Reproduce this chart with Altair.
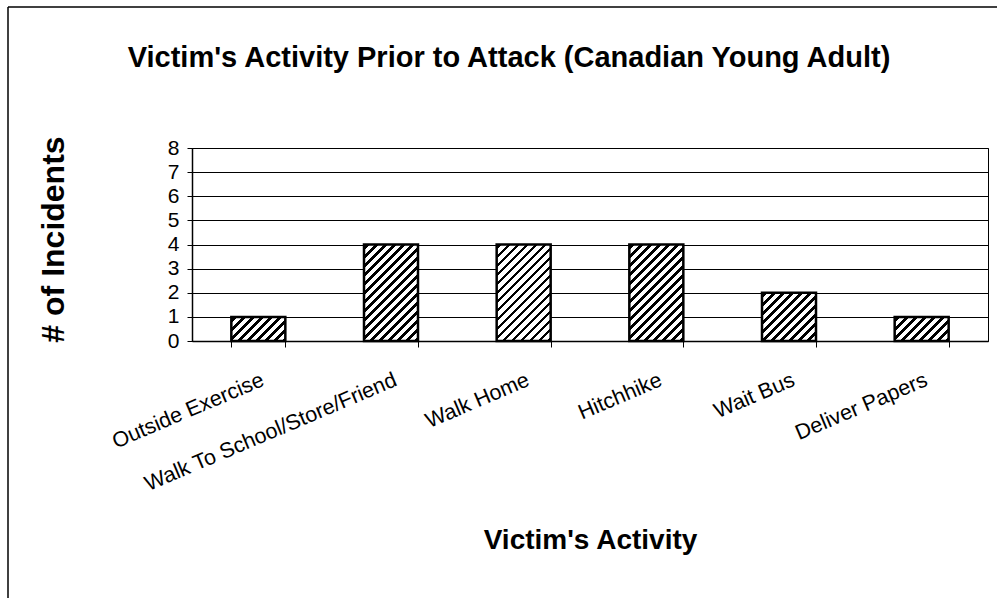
import altair as alt
import pandas as pd

# ---- data ----
categories = ["Outside Exercise", "Walk To School/Store/Friend", "Walk Home",
              "Hitchhike", "Wait Bus", "Deliver Papers"]
incidents = [1, 4, 4, 4, 2, 1]
y_ticks = [0, 1, 2, 3, 4, 5, 6, 7, 8]

title_text = "Victim's Activity Prior to Attack (Canadian Young Adult)"
x_title = "Victim's Activity"
y_title = "# of Incidents"

# ---- layout / style ----
W, H = 796, 193
YMAX = 8
PAD_INNER = 0.593
SANS = "Liberation Sans, Arial, sans-serif"

df = pd.DataFrame({"activity": categories, "count": incidents})

step = W / len(categories)
bar_w = step * (1 - PAD_INNER)


def hatch(value):
    """Diagonal '/' hatch as a sharp-stop linear gradient sized for the bar."""
    h = value * H / YMAX
    w = bar_w
    span = w + h
    k = span / (w * w + h * h)
    period, black = 9.0, 3.8
    stops = [alt.GradientStop(color="white", offset=0)]
    s = 2.0
    while s < span:
        a = s / span
        b = min((s + black) / span, 1.0)
        stops += [alt.GradientStop(color="white", offset=a),
                  alt.GradientStop(color="black", offset=a),
                  alt.GradientStop(color="black", offset=b),
                  alt.GradientStop(color="white", offset=b)]
        s += period
    stops.append(alt.GradientStop(color="white", offset=1))
    return alt.LinearGradient(gradient="linear", stops=stops,
                              x1=0, y1=0, x2=k * w, y2=k * h)


x_enc = alt.X(
    "activity:N",
    sort=categories,
    scale=alt.Scale(domain=categories, paddingInner=PAD_INNER, paddingOuter=PAD_INNER / 2),
    axis=alt.Axis(
        title=x_title, grid=False, tickBand="extent", ticks=True, tickSize=6,
        tickColor="black", domainColor="black", domainWidth=1.5,
        labelAngle=337, labelAlign="right", labelBaseline="top", labelPadding=22,
        labelFontSize=21.5, labelFont=SANS, labelColor="black", labelLimit=500,
        labelOverlap=False,
        titleFont=SANS, titleFontSize=28, titleFontWeight="bold", titleColor="black",
        titleY=207, titleBaseline="alphabetic",
    ),
)
y_enc = alt.Y(
    "count:Q",
    scale=alt.Scale(domain=[0, YMAX], nice=False),
    axis=alt.Axis(
        title=y_title, values=y_ticks, grid=True, gridColor="black", gridWidth=1,
        gridOpacity=1, tickSize=5, tickColor="black", domainColor="black", domainWidth=1.5,
        labelPadding=8, labelFontSize=21, labelFont=SANS, labelColor="black",
        titleFont=SANS, titleFontSize=32, titleFontWeight="bold", titleColor="black",
        titleAngle=270, titleX=-139, titleY=91, titleAlign="center",
        titleBaseline="middle",
    ),
)

base = alt.Chart(df)
layers = []
for v in sorted(set(incidents)):
    layers.append(
        base.transform_filter(alt.datum["count"] == v)
        .mark_bar(fill=hatch(v), stroke="black", strokeWidth=2.5)
        .encode(x=x_enc, y=y_enc)
    )

frame_df = pd.DataFrame({"f": [0]})
left_edge = alt.Chart(frame_df).mark_rule(color="black", strokeWidth=1.5).encode(
    x=alt.value(-184), y=alt.value(-141), y2=alt.value(H + 270))
top_edge = alt.Chart(frame_df).mark_rule(color="black", strokeWidth=1.5).encode(
    x=alt.value(-184), x2=alt.value(W + 20), y=alt.value(-141))

chart = alt.layer(*layers, left_edge, top_edge).properties(
    width=W, height=H,
    background="white",
    title=alt.TitleParams(
        text=title_text, font=SANS, fontSize=29, fontWeight="bold", color="black",
        anchor="middle", frame="group", dx=-81, offset=0, dy=90, baseline="alphabetic",
    ),
    autosize=alt.AutoSizeParams(type="none"),
    padding={"left": 192, "top": 148, "right": 9, "bottom": 257},
).configure_view(
    stroke="black", strokeWidth=1
)

chart.save("out.html", embed_options={"renderer": "svg", "actions": False})
